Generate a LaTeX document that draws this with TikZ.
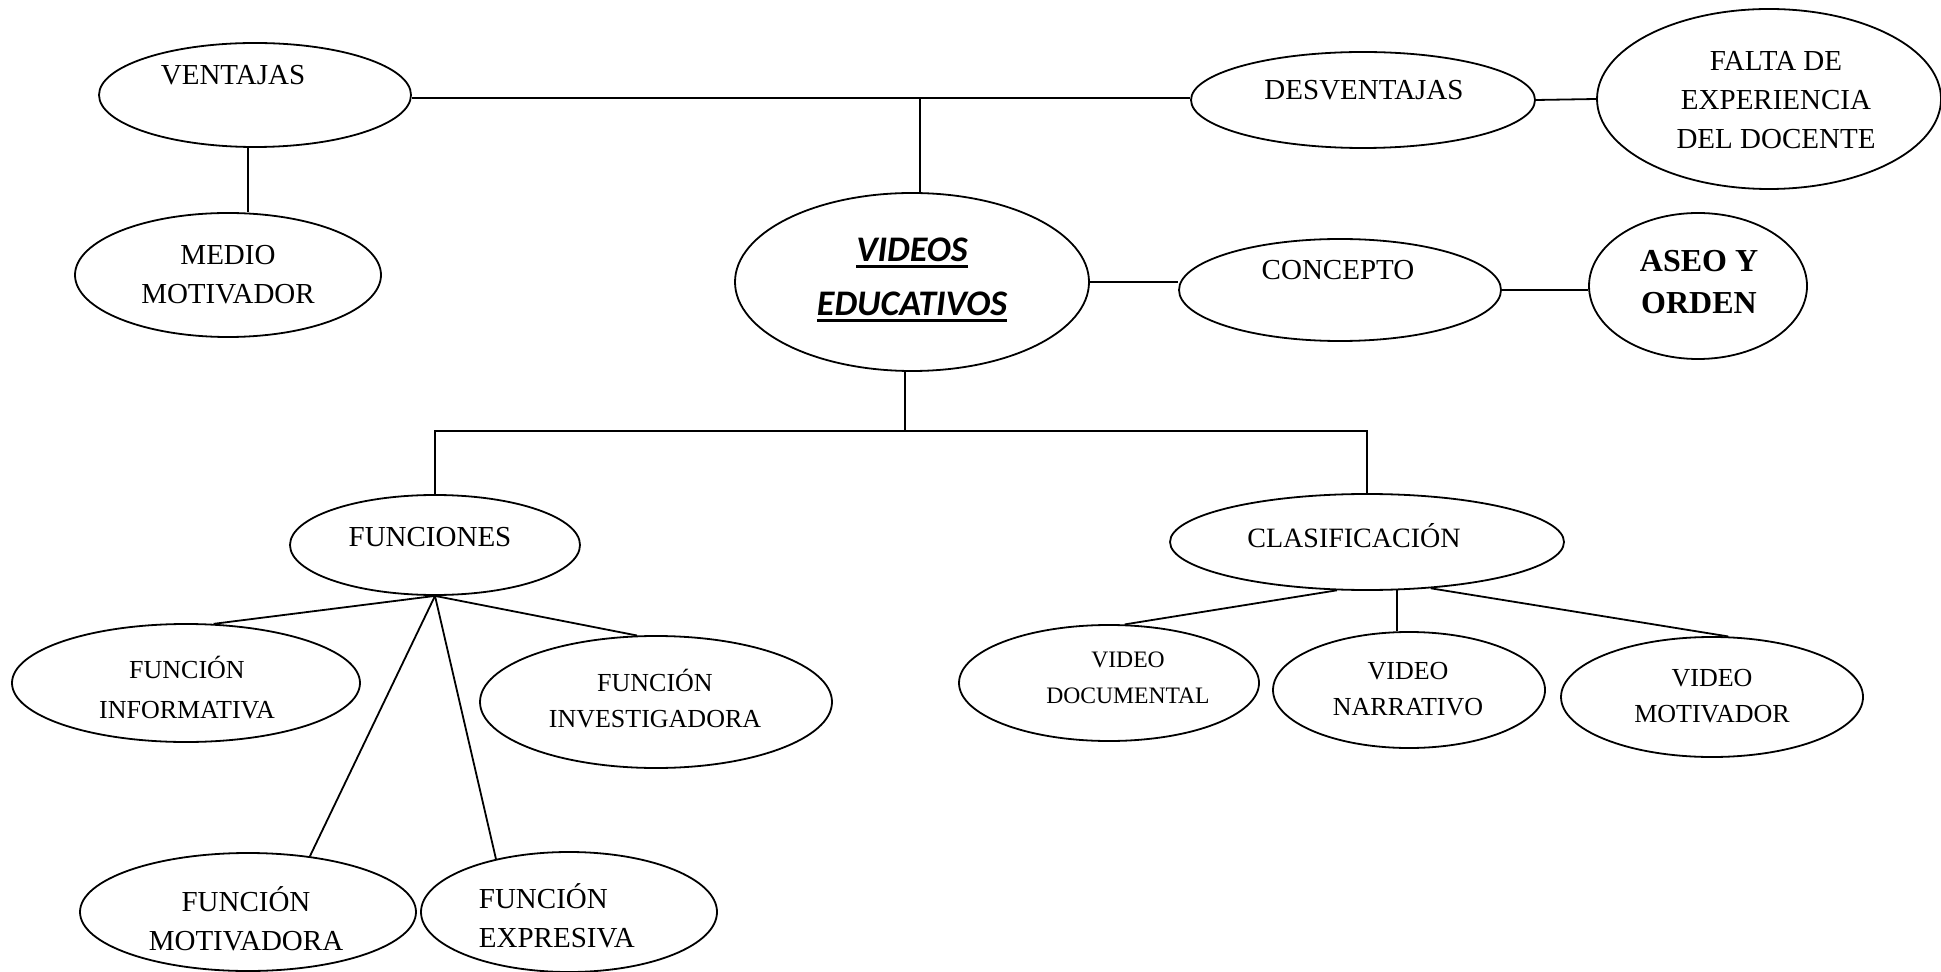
\documentclass[tikz,border=0pt]{standalone}
\usepackage{fontspec}
\setmainfont{Liberation Serif}
\newfontfamily\calibri{Carlito}
\usetikzlibrary{shapes.geometric}

\newcommand\thickul[1]{\sbox0{#1}\rlap{\rule[-3pt]{\wd0}{1.6pt}}\usebox0}

\begin{document}
\begin{tikzpicture}[x=0.5pt, y=-0.5pt,
bub/.style={ellipse, draw, line width=0.9pt, inner sep=0pt},
lbl/.style={align=center, inner sep=0pt, font=\fontsize{14.5}{19.5}\selectfont},
small/.style={font=\fontsize{13}{18}\selectfont},
every path/.style={line width=0.9pt}]
\useasboundingbox (0,0) rectangle (1941,972);

%Ellipses
\node [bub, minimum width=156pt, minimum height=52pt] at (255,95) (ventajas) {};
\node [bub, minimum width=172pt, minimum height=48pt] at (1363,100) (desventajas) {};
\node [bub, minimum width=172pt, minimum height=90pt] at (1769,99) (falta) {};
\node [bub, minimum width=177pt, minimum height=89pt] at (912,282) (videos) {};
\node [bub, minimum width=153pt, minimum height=62pt] at (228,275) (medio) {};
\node [bub, minimum width=161pt, minimum height=51pt] at (1340,290) (concepto) {};
\node [bub, minimum width=109pt, minimum height=73pt] at (1698,286) (aseo) {};
\node [bub, minimum width=145pt, minimum height=50pt] at (435,545) (funciones) {};
\node [bub, minimum width=197pt, minimum height=48pt] at (1367,542) (clasif) {};
\node [bub, minimum width=174pt, minimum height=59pt] at (186,683) (informativa) {};
\node [bub, minimum width=176pt, minimum height=66pt] at (656,702) (investigadora) {};
\node [bub, minimum width=168pt, minimum height=59pt] at (248,912) (motivadora) {};
\node [bub, minimum width=148pt, minimum height=60pt] at (569,912) (expresiva) {};
\node [bub, minimum width=150pt, minimum height=58pt] at (1109,683) (documental) {};
\node [bub, minimum width=136pt, minimum height=58pt] at (1409,690) (narrativo) {};
\node [bub, minimum width=151pt, minimum height=60pt] at (1712,697) (vmotivador) {};

%Texts
\node [lbl] at (233,75) (ventajas-t) {VENTAJAS};
\node [lbl] at (1364,90) (desventajas-t) {DESVENTAJAS};
\node [lbl] at (1776,100) (falta-t) {FALTA DE\\EXPERIENCIA\\DEL DOCENTE};
\node [lbl, font=\calibri\bfseries\itshape\fontsize{18}{27}\selectfont] at (912,280) (videos-t)
  {\thickul{VIDEOS}\\\thickul{EDUCATIVOS}};
\node [lbl] at (228,275) (medio-t) {MEDIO\\MOTIVADOR};
\node [lbl] at (1338,270) (concepto-t) {CONCEPTO};
\node [lbl, font=\bfseries\fontsize{16}{21}\selectfont] at (1699,282) (aseo-t) {ASEO Y\\ORDEN};
\node [lbl] at (430,537) (funciones-t) {FUNCIONES};
\node [lbl, font=\fontsize{14}{19}\selectfont] at (1354,536) (clasif-t) {CLASIFICACIÓN};
\node [lbl, small, font=\fontsize{13}{20}\selectfont] at (187,688) (informativa-t) {FUNCIÓN\\INFORMATIVA};
\node [lbl, small] at (655,699) (investigadora-t) {FUNCIÓN\\INVESTIGADORA};
\node [lbl] at (246,919) (motivadora-t) {FUNCIÓN\\MOTIVADORA};
\node [lbl, align=left, anchor=west] at (478,916) (expresiva-t) {FUNCIÓN\\EXPRESIVA};
\node [lbl, font=\fontsize{11.8}{18}\selectfont] at (1128,678) (documental-t) {VIDEO\\DOCUMENTAL};
\node [lbl, small] at (1408,689) (narrativo-t) {VIDEO\\NARRATIVO};
\node [lbl, small] at (1712,696) (vmotivador-t) {VIDEO\\MOTIVADOR};

%Connectors
\coordinate (top) at (920,98);
\coordinate (split) at (905,431);
\draw (top -| ventajas.east) -- (top -| desventajas.west);
\draw (top) -- (top |- videos.north);
\draw (desventajas.east) -- (falta.west);
\draw ([xshift=-3.5pt]ventajas.south) -- ([xshift=-3.5pt]ventajas.south |- medio.north);
\draw (videos.east) -- (videos.east -| concepto.west);
\draw (concepto.east) -- (concepto.east -| aseo.west);
\draw (split |- videos.south) -- (split);
\draw (funciones.north) |- (split) -| (clasif.north);
\draw (funciones.south) -- (informativa.65);
\draw (funciones.south) -- (investigadora.106);
\draw (funciones.south) -- (motivadora.42);
\draw (funciones.south) -- (expresiva.144);
\draw (clasif.-122) -- (documental.75);
\draw (clasif.-58) -- (clasif.-58 |- narrativo.north);
\draw (clasif.-36) -- (vmotivador.75);
\end{tikzpicture}
\end{document}
